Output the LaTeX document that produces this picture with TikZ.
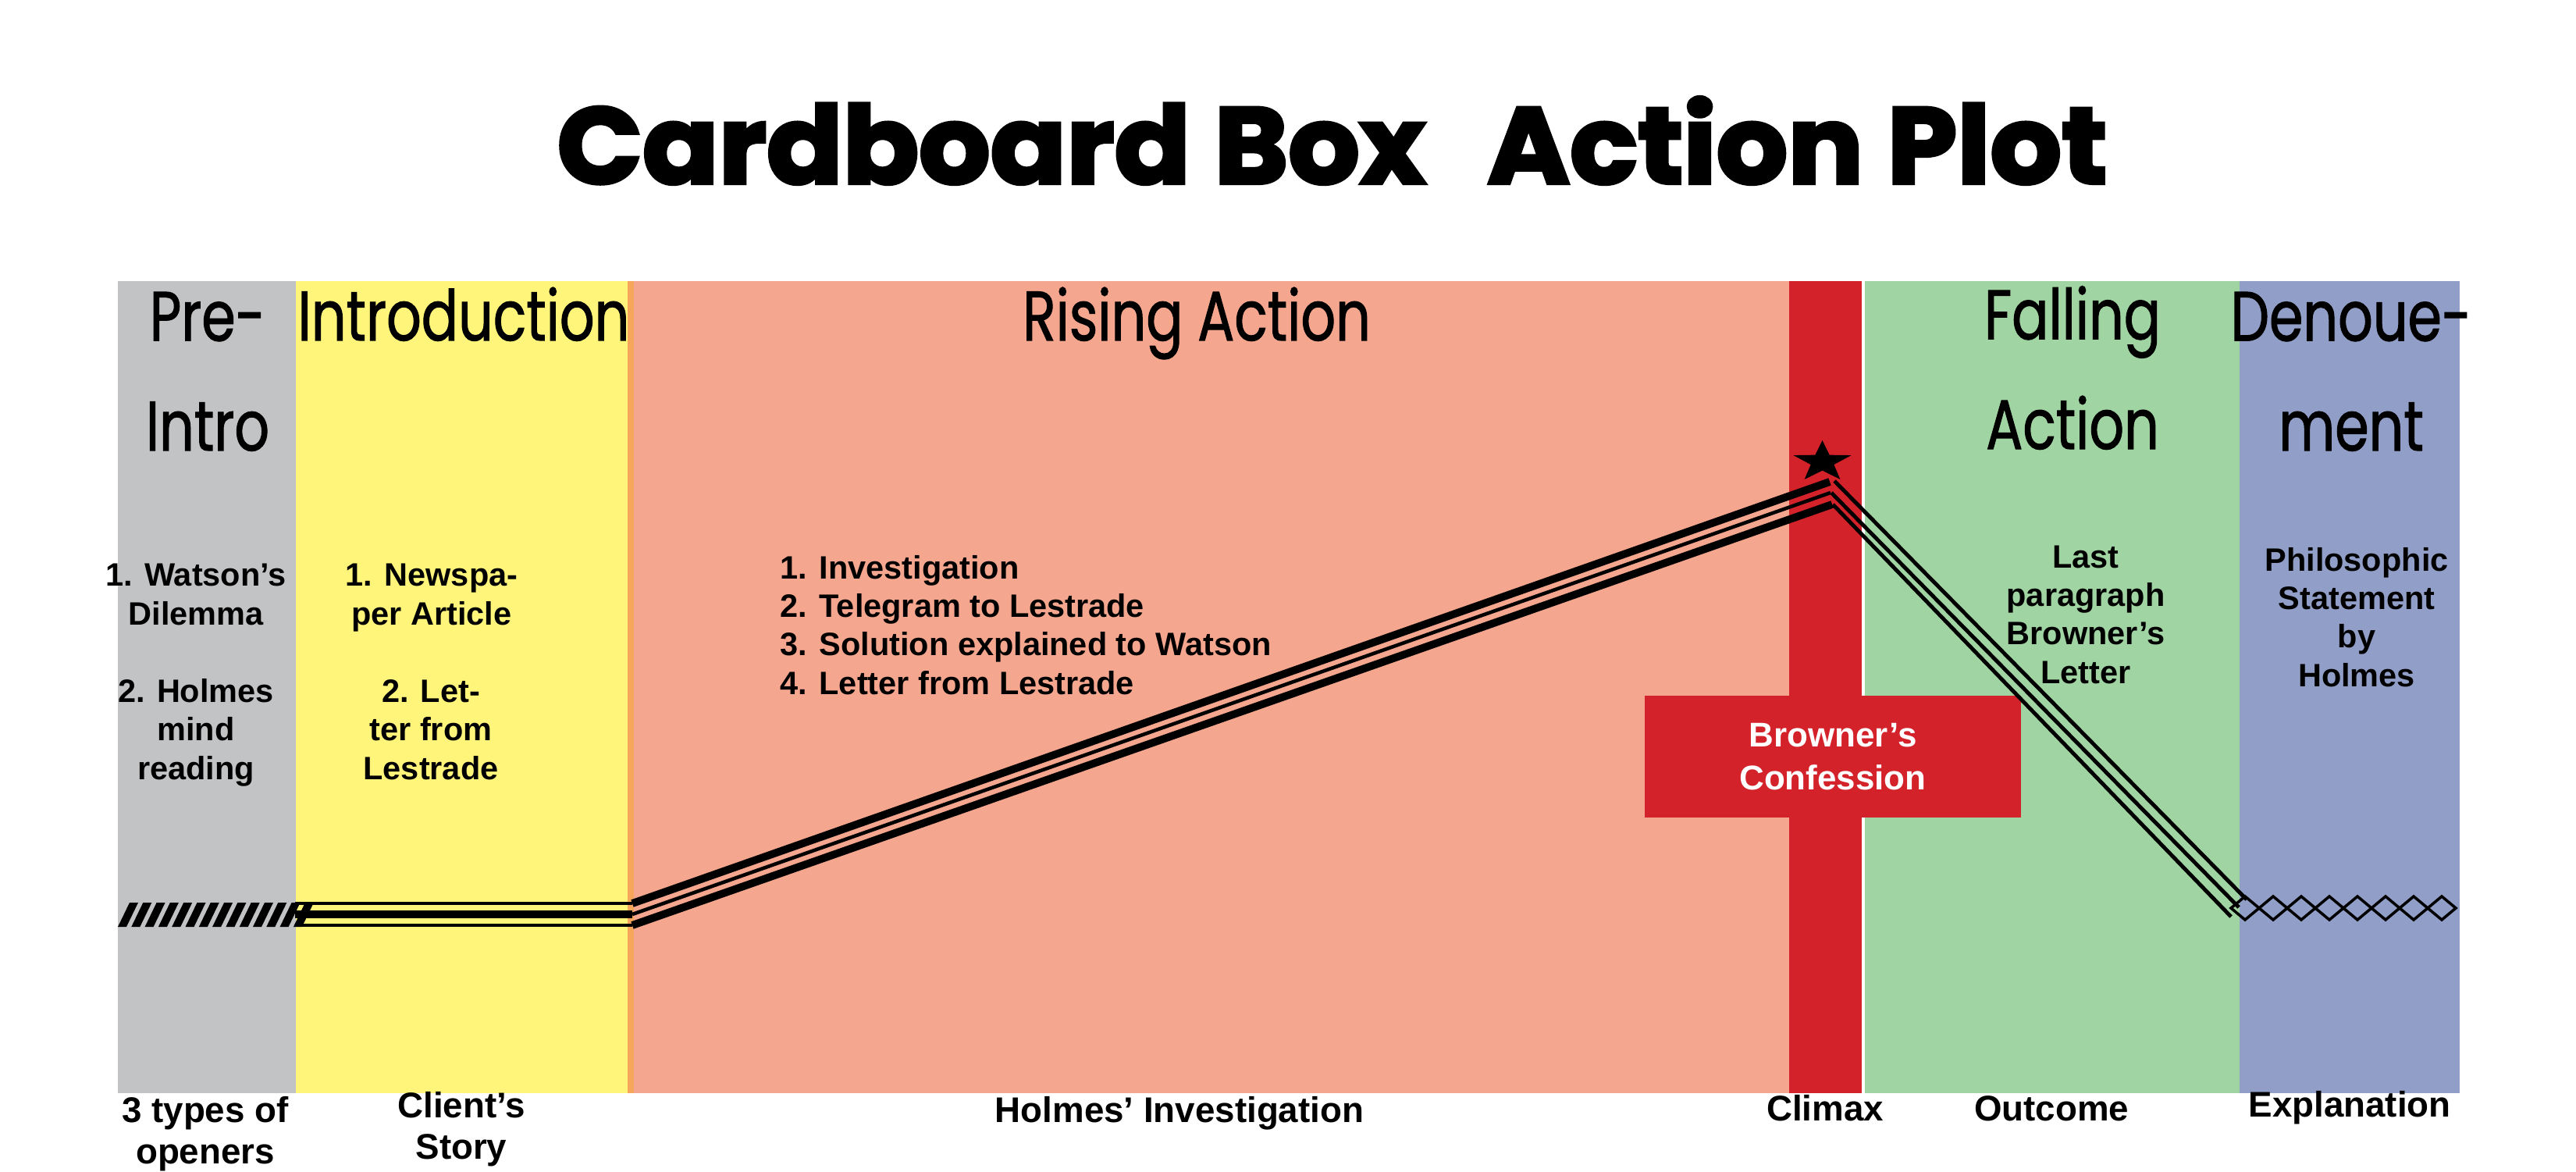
\documentclass[tikz,border=0pt]{standalone}
\usepackage{graphicx}
\usepackage{fontspec}
\setmainfont{Liberation Sans}
\newfontfamily\headfont[FakeStretch=0.78,FakeBold=1.2]{Poppins}
\newfontfamily\titlefont[BoldFeatures={FakeBold=3}]{Poppins}
\usetikzlibrary{positioning}
\definecolor{bandgray}{HTML}{C2C3C5}
\definecolor{bandyellow}{HTML}{FFF57A}
\definecolor{bandorange}{HTML}{F5A65B}
\definecolor{bandsalmon}{HTML}{F5A68E}
\definecolor{bandred}{HTML}{D3222A}
\definecolor{bandgreen}{HTML}{A0D4A2}
\definecolor{bandblue}{HTML}{919EC7}

\begin{document}
\begin{tikzpicture}[
  head/.style={font=\headfont\fontsize{25.5}{40}\selectfont, align=center, anchor=base, inner sep=0pt},
  body/.style={font=\bfseries\fontsize{11.8}{14}\selectfont, align=center, anchor=base, inner sep=0pt},
  foot/.style={font=\bfseries\fontsize{13}{15}\selectfont, align=center, anchor=base, inner sep=0pt},
  thinline/.style={line width=1.3pt},
  thickline/.style={line width=2.8pt},
  fallline/.style={line width=1.4pt}
]
\useasboundingbox (0,0) rectangle (33,15);
\fill[white] (0,0) rectangle (33,15);

\fill[bandgray] (1.51,1) rectangle (3.79,11.4);
\fill[bandyellow] (3.79,1) rectangle (8.04,11.4);
\fill[bandorange] (8.04,1) rectangle (8.12,11.4);
\fill[bandsalmon] (8.12,1) rectangle (22.92,11.4);
\fill[bandred] (22.92,1) rectangle (23.85,11.4);
\fill[bandgreen] (23.89,1) rectangle (28.69,11.4);
\fill[bandblue] (28.69,1) rectangle (31.51,11.4);

\node[inner sep=0pt, anchor=base] (title) at (17.065,12.65)
  {\resizebox{19.85cm}{1.11cm}{\titlefont\bfseries Cardboard Box\hspace{0.55em}Action Plot}};

\node[head] (pre) at (2.66,9.23) {Pre-\\Intro};
\node[head] (intro) at (5.94,10.64) {Introduction};
\node[head] (rising) at (15.33,10.64) {Rising Action};
\node[head] (falling) at (26.55,9.25) {Falling\\Action};
\node[head] (denoue) at (30.12,9.23) {Denoue-\\ment};

\node[body] (watson) at (2.51,7.00) {1. Watson’s\\Dilemma};
\node[body] (mind) at (2.51,5.02) {2. Holmes\\mind\\reading};
\node[body] (paper) at (5.53,7.00) {1. Newspa-\\per Article};
\node[body] (letter) at (5.52,5.02) {2. Let-\\ter from\\Lestrade};
\node[body, align=left, anchor=base west] (steps) at (9.99,6.11)
  {1. Investigation\\2. Telegram to Lestrade\\3. Solution explained to Watson\\4. Letter from Lestrade};
\node[body] (last) at (26.72,6.25) {Last\\paragraph\\Browner’s\\Letter};
\node[body] (philo) at (30.19,6.21) {Philosophic\\Statement\\by\\Holmes};

\node[fill=bandred, text=white, minimum width=4.82cm, minimum height=1.56cm, align=center,
  font=\bfseries\fontsize{12.5}{15.6}\selectfont] (confess) at (23.48,5.31) {Browner’s\\Confession};

\foreach \k in {0,...,13}
  \fill (1.51+0.173*\k,3.13) -- ++(0.11,0) -- ++(0.15,0.31) -- ++(-0.11,0) -- cycle;

\coordinate (hiA) at (3.78,3.43);
\coordinate (hiB) at (8.10,3.43);
\coordinate (hiP) at (23.44,8.83);
\coordinate (hiQ) at (23.50,8.84);
\coordinate (hiE) at (28.78,3.48);
\coordinate (midA) at (3.78,3.29);
\coordinate (midB) at (8.10,3.29);
\coordinate (midP) at (23.45,8.69);
\coordinate (midQ) at (23.46,8.69);
\coordinate (midE) at (28.68,3.38);
\coordinate (loA) at (3.78,3.15);
\coordinate (loB) at (8.10,3.15);
\coordinate (loP) at (23.47,8.54);
\coordinate (loQ) at (23.48,8.54);
\coordinate (loE) at (28.58,3.26);

\draw[line width=1.2pt] (hiA) -- (hiB);
\draw[line width=2.6pt] (midA) -- (midB);
\draw[line width=1.4pt] (loA) -- (loB);
\draw[thickline] (hiB) -- (hiP);
\draw[thinline] (midB) -- (midP);
\draw[thickline] (loB) -- (loP);
\draw[fallline] (hiQ) -- (hiE);
\draw[fallline] (midQ) -- (midE);
\draw[fallline] (loQ) -- (loE);

\foreach \i in {0,...,7}
  \draw[line width=1pt] (28.58+0.36*\i,3.37) -- ++(0.18,0.15) -- ++(0.18,-0.15) -- ++(-0.18,-0.15) -- cycle;

\fill[shift={(23.345,9.084)}, xscale=0.39, yscale=0.276]
  (90:1) -- (126:0.4) -- (162:1) -- (198:0.4) -- (234:1) -- (270:0.4)
  -- (306:1) -- (342:0.4) -- (18:1) -- (54:0.4) -- cycle;

\node[foot] (openers) at (2.63,0.10) {3 types of\\openers};
\node[foot] (story) at (5.91,0.16) {Client’s\\Story};
\node[foot] (invest) at (15.11,0.63) {Holmes’ Investigation};
\node[foot] (climax) at (23.38,0.65) {Climax};
\node[foot] (outcome) at (26.28,0.65) {Outcome};
\node[foot] (explain) at (30.10,0.70) {Explanation};
\end{tikzpicture}
\end{document}
